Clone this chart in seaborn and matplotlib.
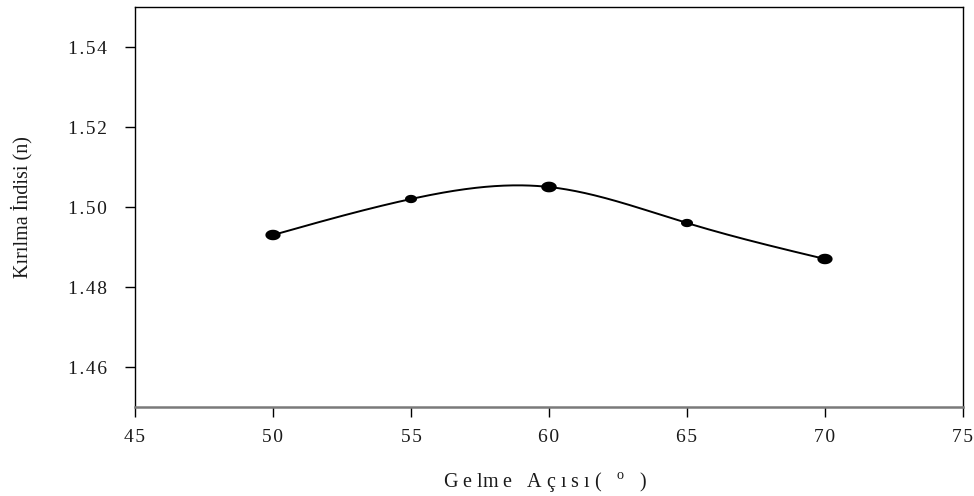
import numpy as np
import pandas as pd
import matplotlib
matplotlib.use("Agg")
import matplotlib.pyplot as plt
from matplotlib.path import Path
from matplotlib.ticker import FuncFormatter
import seaborn as sns

# ---- data ----
angles = [50, 55, 60, 65, 70]
refr_index = [1.493, 1.502, 1.505, 1.496, 1.487]
x_ticks = [45, 50, 55, 60, 65, 70, 75]
y_ticks = [1.46, 1.48, 1.50, 1.52, 1.54]
x_label = "G e lm e   A ç ı s ı (   $^{\\mathrm{o}}$   )"
y_label = "Kırılma İndisi (n)"

# style (not data)
marker_sizes = [120, 75, 125, 75, 120]

sns.set_theme(style="white")
plt.rcParams['font.family'] = ['Liberation Serif', 'DejaVu Serif']
plt.rcParams['mathtext.fontset'] = 'custom'
plt.rcParams['mathtext.rm'] = 'Liberation Serif'

df = pd.DataFrame({"angle": angles, "n": refr_index})

# natural cubic spline through the data points (for the smooth curve)
def natural_spline(x, y, xs):
    x = np.asarray(x, float); y = np.asarray(y, float)
    n = len(x)
    h = np.diff(x)
    A = np.zeros((n, n)); b = np.zeros(n)
    A[0, 0] = 1; A[-1, -1] = 1
    for i in range(1, n - 1):
        A[i, i - 1] = h[i - 1]
        A[i, i] = 2 * (h[i - 1] + h[i])
        A[i, i + 1] = h[i]
        b[i] = 6 * ((y[i + 1] - y[i]) / h[i] - (y[i] - y[i - 1]) / h[i - 1])
    M = np.linalg.solve(A, b)
    out = np.empty_like(xs)
    for k, xv in enumerate(xs):
        i = min(max(np.searchsorted(x, xv) - 1, 0), n - 2)
        t0 = x[i + 1] - xv; t1 = xv - x[i]
        out[k] = (M[i] * t0**3 + M[i + 1] * t1**3) / (6 * h[i]) \
            + (y[i] / h[i] - M[i] * h[i] / 6) * t0 \
            + (y[i + 1] / h[i] - M[i + 1] * h[i] / 6) * t1
    return out

xs = np.linspace(min(angles), max(angles), 300)
curve = pd.DataFrame({"angle": xs, "n": natural_spline(angles, refr_index, xs)})

fig = plt.figure(figsize=(9.74, 4.96), dpi=100)
ax = fig.add_axes([135 / 974, 1 - 407 / 496, (963 - 135) / 974, (407 - 7) / 496])

sns.lineplot(data=curve, x="angle", y="n", ax=ax, color="black", linewidth=1.4)

theta = np.linspace(0, 2 * np.pi, 60)
ell = Path(np.column_stack([1.45 * np.cos(theta), np.sin(theta)]))
sns.scatterplot(data=df, x="angle", y="n", ax=ax, marker=ell, s=marker_sizes,
                color="black", edgecolor="black", linewidth=0, zorder=5)

ax.set_xlim(45, 75)
ax.set_ylim(1.45, 1.55)
ax.set_xticks(x_ticks)
ax.set_yticks(y_ticks)

spaced = lambda s: "\u200a".join(s)
ax.xaxis.set_major_formatter(FuncFormatter(lambda v, p: spaced(f"{v:.0f}")))
ax.yaxis.set_major_formatter(FuncFormatter(lambda v, p: spaced(f"{v:.2f}")))

ax.tick_params(axis="both", which="major", direction="out", length=7, width=1,
               color="black", labelsize=14, labelcolor="#1a1a1a",
               left=True, bottom=True)
ax.tick_params(axis="x", pad=9)
ax.tick_params(axis="y", pad=13)

for side in ["left", "top", "right"]:
    ax.spines[side].set_color("black")
    ax.spines[side].set_linewidth(1.0)
ax.spines["bottom"].set_color("#7a7a7a")
ax.spines["bottom"].set_linewidth(1.8)

ax.set_xlabel(x_label, fontsize=14.5, color="#1a1a1a")
ax.set_ylabel(y_label, fontsize=14.5, color="#1a1a1a")
ax.xaxis.set_label_coords((545 - 135) / 828, -(470 - 407) / 400)
ax.yaxis.set_label_coords((32 - 135) / 828, 0.5)

fig.savefig("out.png", dpi=100)
